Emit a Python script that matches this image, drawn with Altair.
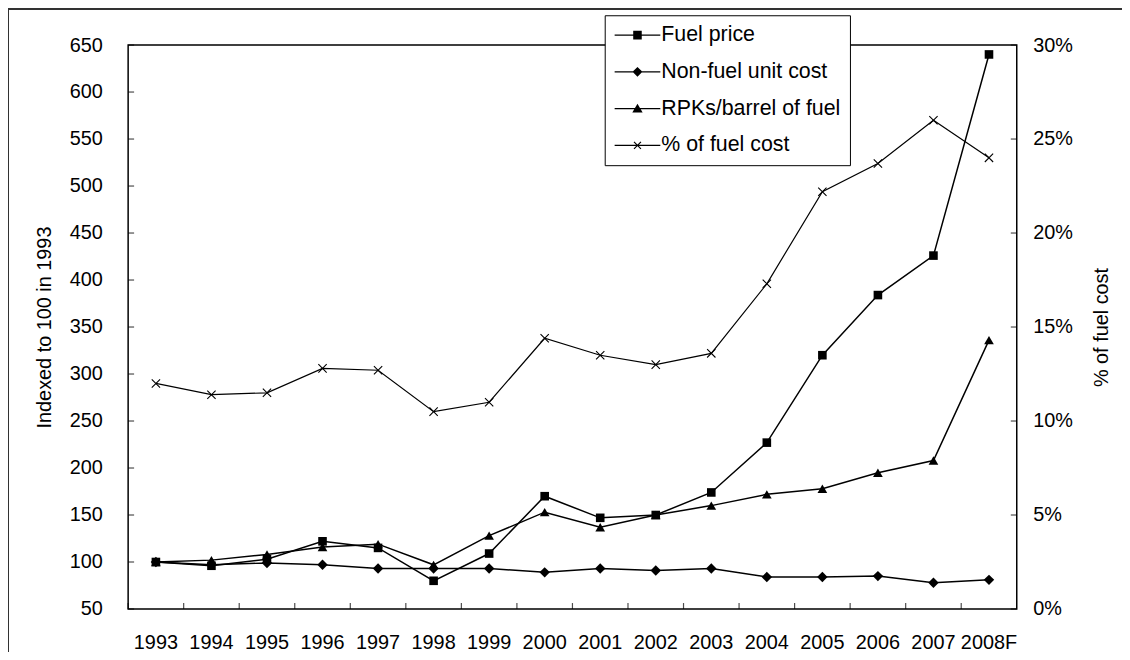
import altair as alt
import pandas as pd

# ---------------- data ----------------
years = ["1993", "1994", "1995", "1996", "1997", "1998", "1999", "2000",
         "2001", "2002", "2003", "2004", "2005", "2006", "2007", "2008F"]
fuel_price = [100, 96, 103, 122, 115, 80, 109, 170, 147, 150, 174, 227, 320, 384, 426, 640]
non_fuel_unit_cost = [100, 97, 99, 97, 93, 93, 93, 89, 93, 91, 93, 84, 84, 85, 78, 81]
rpks_per_barrel = [100, 102, 108, 116, 119, 97, 128, 153, 137, 150, 160, 172, 178, 195, 208, 336]
fuel_cost_share = [0.120, 0.114, 0.115, 0.128, 0.127, 0.105, 0.110, 0.144,
                   0.135, 0.130, 0.136, 0.173, 0.222, 0.237, 0.260, 0.240]
series_names = ["Fuel price", "Non-fuel unit cost", "RPKs/barrel of fuel", "% of fuel cost"]
left_ticks = [50, 100, 150, 200, 250, 300, 350, 400, 450, 500, 550, 600, 650]
right_ticks = [0.0, 0.05, 0.10, 0.15, 0.20, 0.25, 0.30]

# ---------------- tables ----------------
left_df = pd.DataFrame({
    "year": years * 3,
    "series": [series_names[0]] * 16 + [series_names[1]] * 16 + [series_names[2]] * 16,
    "value": fuel_price + non_fuel_unit_cost + rpks_per_barrel,
})
right_df = pd.DataFrame({"year": years, "share": fuel_cost_share})
left_tick_df = pd.DataFrame({"value": left_ticks})
right_tick_df = pd.DataFrame({"share": right_ticks})
year_df = pd.DataFrame({"year": years})
legend_df = pd.DataFrame({"series": series_names})

W, H = 895, 568
FONT = "Liberation Sans"

x_scale = alt.Scale(type="band", domain=years, paddingInner=0, paddingOuter=0)
x_axis = alt.Axis(title=None, labelAngle=0, ticks=False, tickSize=0, domain=False,
                  grid=False, labelPadding=24)


def x_enc(**kw):
    return alt.X("year:N", sort=years, scale=x_scale, axis=x_axis, **kw)


y_left_scale = alt.Scale(domain=[50, 650], nice=False, zero=False)
y_left_axis = alt.Axis(title="Indexed to 100 in 1993", values=left_ticks, ticks=False,
                       tickSize=0, domain=False, grid=False, labelPadding=26,
                       titleX=-84, titleY=H / 2, titleAngle=270, titleAlign="center",
                       titleBaseline="middle")
y_right_scale = alt.Scale(domain=[0, 0.3], nice=False, zero=True)
y_right_axis = alt.Axis(title="% of fuel cost", orient="right", format=".0%",
                        values=right_ticks, ticks=False, tickSize=0, domain=False,
                        grid=False, labelPadding=16, titleX=85, titleY=H / 2,
                        titleAngle=270, titleAlign="center", titleBaseline="middle")


def y_left():
    return alt.Y("value:Q", scale=y_left_scale, axis=y_left_axis)


def y_right():
    return alt.Y("share:Q", scale=y_right_scale, axis=y_right_axis)


base_left = alt.Chart(left_df)

left_lines = base_left.mark_line(color="black", strokeWidth=1.5).encode(
    x=x_enc(), y=y_left(), detail="series:N"
)


def pts(name, shape, size):
    return base_left.transform_filter(alt.datum.series == name).mark_point(
        shape=shape, filled=True, color="black", size=size, opacity=1
    ).encode(x=x_enc(), y=y_left())


fuel_pts = pts(series_names[0], "square", 75)
nonfuel_pts = pts(series_names[1], "diamond", 110)
rpk_pts = pts(series_names[2], "triangle-up", 95)

left_ticks_layer = alt.Chart(left_tick_df).mark_tick(
    orient="horizontal", size=6, thickness=1.2, color="black"
).encode(y=y_left(), x=alt.value(3))

x_ticks_layer = alt.Chart(year_df).mark_tick(
    orient="vertical", size=6, thickness=1.2, color="black"
).encode(x=x_enc(bandPosition=0), y=alt.value(H - 3))

# legend symbols (filled outlines): a short line with the marker in the middle (unit = 10 px)
LINE = "M-2.3,-0.065H2.3V0.065H-2.3Z"
legend_paths = [
    LINE + "M-0.43,-0.43H0.43V0.43H-0.43Z",
    LINE + "M0,-0.5L0.5,0L0,0.5L-0.5,0Z",
    LINE + "M0,-0.5L0.52,0.4H-0.52Z",
    LINE + "M-0.308,-0.392L0.392,0.308L0.308,0.392L-0.392,-0.308Z"
         + "M-0.392,0.308L0.308,-0.392L0.392,-0.308L-0.308,0.392Z",
]
legend_layer = alt.Chart(legend_df).transform_filter("false").mark_point(
    filled=True, color="black", opacity=1
).encode(
    shape=alt.Shape(
        "series:N",
        sort=series_names,
        scale=alt.Scale(domain=series_names, range=legend_paths),
        legend=alt.Legend(
            title=None, orient="none", legendX=480, legendY=-30, direction="vertical",
            strokeColor="black", fillColor="white", padding=9,
            symbolSize=400, symbolOffset=13, symbolFillColor="black",
            labelFontSize=21.5, labelFont=FONT, labelColor="black",
            labelOffset=13, labelLimit=400, rowPadding=15,
        ),
    )
)

frame_top = alt.Chart(year_df).mark_rule(color="#333", strokeWidth=1.5).encode(
    x=alt.value(-122), x2=alt.value(1010), y=alt.value(-36)
)
frame_left = alt.Chart(year_df).mark_rule(color="#333", strokeWidth=1.5).encode(
    x=alt.value(-121), y=alt.value(-37), y2=alt.value(640)
)

left = alt.layer(left_lines, fuel_pts, nonfuel_pts, rpk_pts, left_ticks_layer,
                 x_ticks_layer, legend_layer, frame_top, frame_left)

base_right = alt.Chart(right_df)
right_line = base_right.mark_line(color="black", strokeWidth=1.2).encode(
    x=x_enc(), y=y_right()
)
right_pts = base_right.mark_point(
    shape="M-1,-1L1,1M-1,1L1,-1", filled=False, color="black", size=70,
    strokeWidth=1.1, opacity=1
).encode(x=x_enc(), y=y_right())
right_ticks_layer = alt.Chart(right_tick_df).mark_tick(
    orient="horizontal", size=6, thickness=1.2, color="black"
).encode(y=y_right(), x=alt.value(W - 3))

right = alt.layer(right_line, right_pts, right_ticks_layer)

chart = (
    alt.layer(left, right)
    .resolve_scale(y="independent")
    .properties(
        width=W, height=H,
        padding={"left": 121, "top": 35, "right": 106, "bottom": 41},
        autosize=alt.AutoSizeParams(type="none"),
        background="white",
    )
    .configure_view(stroke="black", strokeWidth=1.5)
    .configure_axis(labelFont=FONT, labelFontSize=20, labelColor="black",
                    titleFont=FONT, titleFontSize=20, titleFontWeight="normal",
                    titleColor="black")
)

chart.save("out.html", embed_options={"renderer": "svg", "actions": False})
